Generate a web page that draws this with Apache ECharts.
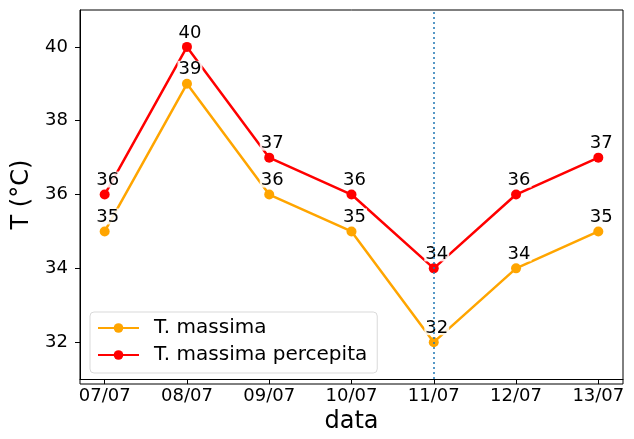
<!DOCTYPE html>
<html><head><meta charset="utf-8">
<script src="https://cdn.jsdelivr.net/npm/echarts@6/dist/echarts.min.js"></script>
<style>html,body{margin:0;padding:0;background:#fff}#c{width:634px;height:439px}</style>
</head><body><div id="c"></div>
<script>
const categories = ['07/07','08/07','09/07','10/07','11/07','12/07','13/07'];
const tMassima = [35, 39, 36, 35, 32, 34, 35];
const tPercepita = [36, 40, 37, 36, 34, 36, 37];
const yTicks = [32, 34, 36, 38, 40];
const markerIndex = 4; // 11/07

const FONT = 'DejaVu Sans';
const chart = echarts.init(document.getElementById('c'), null, {renderer: 'canvas'});
const toPts = arr => arr.map((v, i) => [i, v]);
const lbl = {show: true, position: 'top', distance: 2, offset: [3, 0], color: '#000', fontFamily: FONT, fontSize: 18,
  backgroundColor: 'rgba(255,255,255,0.85)', padding: [0, 1, -2, 1]};
const xIdx = categories.map((c, i) => i);
chart.setOption({
  animation: false,
  grid: {left: 80, right: 11, top: 10, bottom: 55, show: false},
  legend: {
    left: 90, top: 312, orient: 'vertical', itemGap: 7, itemWidth: 41, itemHeight: 12,
    padding: [6, 10, 8, 7], borderColor: '#d9d9d9', borderWidth: 1, borderRadius: 4,
    backgroundColor: 'rgba(255,255,255,0.8)',
    textStyle: {fontFamily: FONT, fontSize: 20, color: '#000', padding: [0, 0, 0, 10]},
    data: [{name: 'T. massima'}, {name: 'T. massima percepita'}]
  },
  xAxis: {
    type: 'value', min: -0.3, max: 6.3,
    name: 'data', nameLocation: 'middle', nameGap: 30,
    nameTextStyle: {fontFamily: FONT, fontSize: 24, color: '#000'},
    axisLine: {show: true, onZero: false, lineStyle: {color: '#000', width: 1}},
    axisTick: {show: true, length: 5, customValues: xIdx, lineStyle: {color: '#000'}},
    axisLabel: {customValues: xIdx, formatter: v => categories[Math.round(v)] || '',
      fontFamily: FONT, fontSize: 18, color: '#000', margin: 8},
    splitLine: {show: false}
  },
  yAxis: {
    type: 'value', min: 31, max: 41,
    name: 'T (°C)', nameLocation: 'middle', nameGap: 43, nameRotate: 90,
    nameTextStyle: {fontFamily: FONT, fontSize: 24, color: '#000'},
    axisLine: {show: true, onZero: false, lineStyle: {color: '#000', width: 1}},
    axisTick: {show: true, length: 5, customValues: yTicks, lineStyle: {color: '#000'}},
    axisLabel: {customValues: yTicks, fontFamily: FONT, fontSize: 18, color: '#000', margin: 12},
    splitLine: {show: false}
  },
  series: [
    {name: 'T. massima', type: 'line', data: toPts(tMassima), color: '#FFA500',
     symbol: 'circle', symbolSize: 10, lineStyle: {width: 2.5, color: '#FFA500'},
     itemStyle: {color: '#FFA500'}, label: lbl, z: 3,
     markLine: {silent: true, symbol: 'none', label: {show: false},
       lineStyle: {color: '#1f77b4', type: [2, 3], width: 1.5},
       data: [{xAxis: markerIndex}]}},
    {name: 'T. massima percepita', type: 'line', data: toPts(tPercepita), color: '#FF0000',
     symbol: 'circle', symbolSize: 10, lineStyle: {width: 2.5, color: '#FF0000'},
     itemStyle: {color: '#FF0000'}, label: lbl, z: 3}
  ],
  graphic: [{type: 'rect', shape: {x: 80, y: 10, width: 543, height: 374}, style: {fill: 'none', stroke: '#000', lineWidth: 1}, z: 0, silent: true}]
});
</script></body></html>
